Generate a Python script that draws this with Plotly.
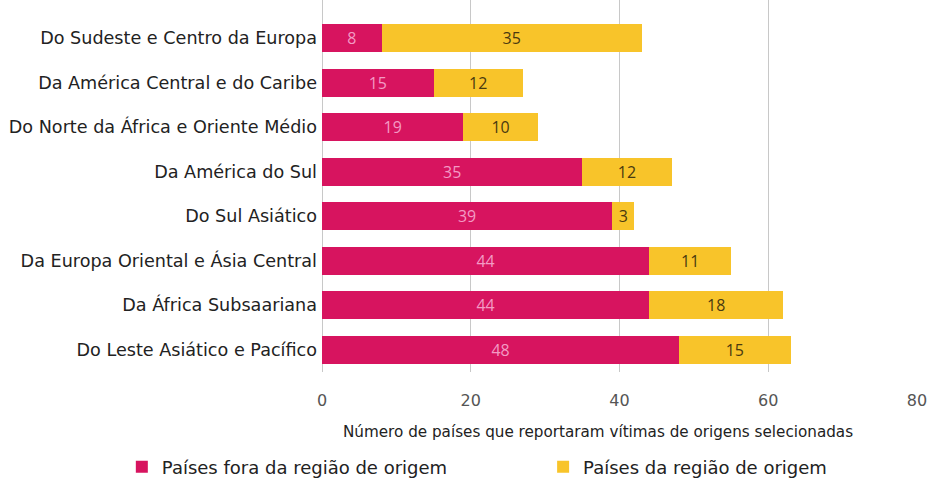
import plotly.graph_objects as go

categories = [
    "Do Sudeste e Centro da Europa",
    "Da América Central e do Caribe",
    "Do Norte da África e Oriente Médio",
    "Da América do Sul",
    "Do Sul Asiático",
    "Da Europa Oriental e Ásia Central",
    "Da África Subsaariana",
    "Do Leste Asiático e Pacífico",
]
fora_regiao = [8, 15, 19, 35, 39, 44, 44, 48]
da_regiao = [35, 12, 10, 12, 3, 11, 18, 15]
series_names = ["Países fora da região de origem", "Países da região de origem"]
x_ticks = [0, 20, 40, 60, 80]
x_title = "Número de países que reportaram vítimas de origens selecionadas"

MAGENTA = "#D7145F"
YELLOW = "#F8C42A"
FONT = "DejaVu Sans, sans-serif"

fig = go.Figure()
fig.add_trace(go.Bar(
    y=categories, x=fora_regiao, orientation="h", name=series_names[0],
    marker=dict(color=MAGENTA, line=dict(width=0)),
    text=fora_regiao, textposition="inside", insidetextanchor="middle", textangle=0,
    textfont=dict(color="#F39AC4", size=17, family="Open Sans, sans-serif"),
    legend="legend",
))
fig.add_trace(go.Bar(
    y=categories, x=da_regiao, orientation="h", name=series_names[1],
    marker=dict(color=YELLOW, line=dict(width=0)),
    text=da_regiao, textposition="inside", insidetextanchor="middle", textangle=0,
    textfont=dict(color="#4A3A10", size=17, family="Open Sans, sans-serif"),
    legend="legend2",
))

legend_common = dict(
    orientation="h", xref="container", yref="container",
    y=0.027, xanchor="left", yanchor="middle",
    font=dict(size=18, color="#222", family=FONT), itemclick=False,
    bgcolor="rgba(0,0,0,0)",
)

fig.update_layout(
    barmode="stack",
    bargap=0.38,
    width=930, height=480,
    margin=dict(l=322, r=13, t=0, b=108),
    paper_bgcolor="white", plot_bgcolor="white",
    font=dict(family=FONT, color="#222"),
    uniformtext=dict(mode="show", minsize=10),
    xaxis=dict(
        range=[0, 80], tickvals=x_ticks, showgrid=True, gridcolor="#C8C8C8", gridwidth=1,
        zeroline=True, zerolinecolor="#C8C8C8", zerolinewidth=1, showline=False,
        tickfont=dict(size=16, color="#555", family=FONT), ticklabelstandoff=17,
    ),
    yaxis=dict(
        categoryorder="array", categoryarray=categories,
        range=[7.5, -0.86], showgrid=False, zeroline=False,
        tickfont=dict(size=17.6, color="#222", family=FONT), ticklabelstandoff=4,
    ),
    legend=dict(x=0.131, **legend_common),
    legend2=dict(x=0.584, **legend_common),
    showlegend=True,
    annotations=[dict(
        text=x_title, xref="paper", yref="paper",
        x=(598 - 322) / 595, y=(372 - 432) / 372, xanchor="center", yanchor="middle",
        showarrow=False, font=dict(size=15.2, color="#222", family=FONT),
    )],
)

fig.write_html("out.html")
